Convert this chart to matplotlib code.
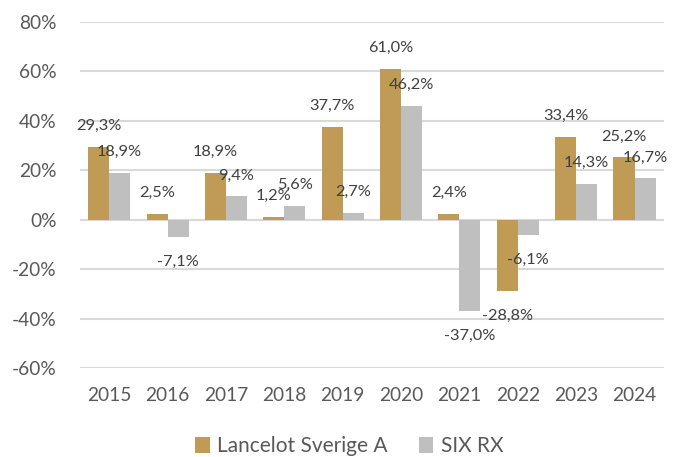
import numpy as np
import matplotlib.pyplot as plt
from matplotlib.ticker import FuncFormatter

plt.rcParams['font.family'] = ['Lato', 'DejaVu Sans']

years = ['2015', '2016', '2017', '2018', '2019', '2020', '2021', '2022', '2023', '2024']
lancelot = [29.3, 2.5, 18.9, 1.2, 37.7, 61.0, 2.4, -28.8, 33.4, 25.2]
six_rx = [18.9, -7.1, 9.4, 5.6, 2.7, 46.2, -37.0, -6.1, 14.3, 16.7]
series_names = ['Lancelot Sverige A', 'SIX RX']

gold = '#BF9B55'
grey = '#BFBFBF'

fig = plt.figure(figsize=(6.74, 4.57), dpi=100)
ax = fig.add_axes([0.1187, 0.1947, 0.866, 0.7572])

x = np.arange(len(years))
w = 0.36
b1 = ax.bar(x - w / 2, lancelot, w, color=gold, label=series_names[0], zorder=3)
b2 = ax.bar(x + w / 2, six_rx, w, color=grey, label=series_names[1], zorder=3)

# data labels, Excel style with comma decimals
for bars, vals in [(b1, lancelot), (b2, six_rx)]:
    for rect, v in zip(bars, vals):
        off = 21 if v >= 0 else -25
        ax.annotate(f'{v:.1f}%'.replace('.', ','),
                    (rect.get_x() + rect.get_width() / 2, v),
                    xytext=(0, off), textcoords='offset pixels',
                    ha='center', va='center', fontsize=11.8, color='#404040',
                    zorder=4)

ax.set_xlim(-0.5, len(years) - 0.5)
ax.set_ylim(-60, 80)
ax.set_yticks(range(-60, 81, 20))
ax.yaxis.set_major_formatter(FuncFormatter(lambda v, p: f'{v:.0f}%'))
ax.set_xticks(x)
ax.set_xticklabels(years)
ax.tick_params(length=0, labelsize=13.8, colors='#595959')
ax.tick_params(axis='y', pad=17)
ax.tick_params(axis='x', pad=14)
ax.grid(axis='y', color='#D9D9D9', linewidth=1.5, zorder=0)
for s in ax.spines.values():
    s.set_visible(False)

fig.legend(loc='center', bbox_to_anchor=(0.518, 0.024), ncol=2, frameon=False,
           fontsize=15, labelcolor='#595959', handlelength=0.7, handleheight=0.8,
           handletextpad=0.35, columnspacing=1.5)

fig.savefig('out.png', dpi=100)
